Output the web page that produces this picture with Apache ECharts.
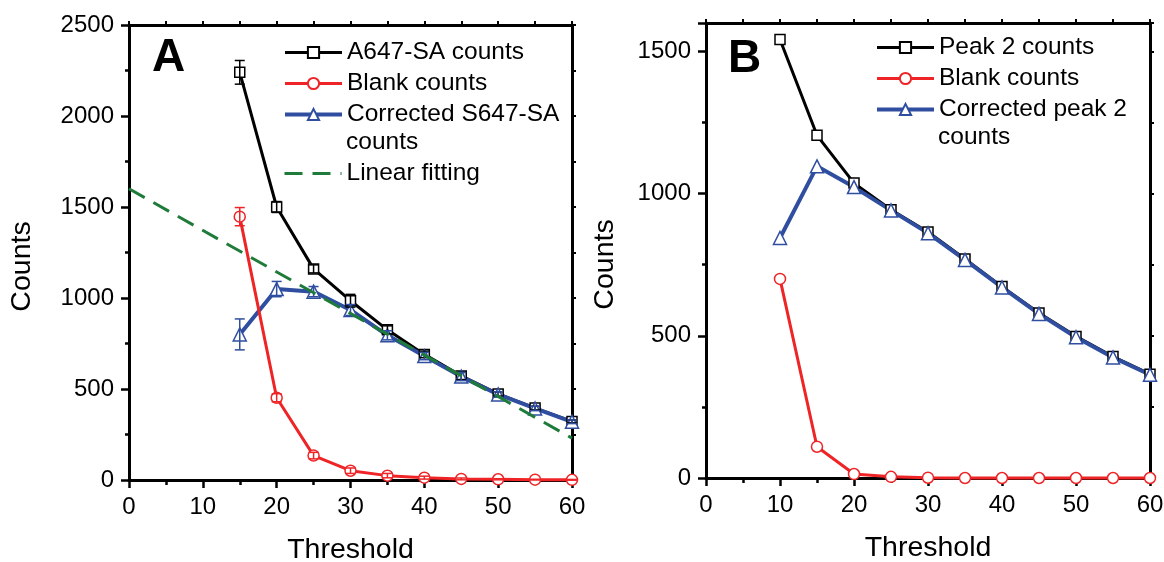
<!DOCTYPE html>
<html>
<head>
<meta charset="utf-8">
<script src="https://cdn.jsdelivr.net/npm/echarts@6/dist/echarts.min.js"></script>
<style>
html,body{margin:0;padding:0;background:#fff}
#chart{width:1164px;height:562px}
</style>
</head>
<body>
<div id="chart"></div>
<script>
// panel A
var thrA = [15,20,25,30,35,40,45,50,55,60];
var sampleA = [2240,1500,1160,985,825,690,572,473,395,322];
var sampleErrA = [65,30,22,35,22,18,20,12,10,8];
var blankA = [1447,452,134,51,24,13,6,4,2,1];
var blankErrA = [50,22,18,15,12,8,5,3,2,2];
var corrA = [800,1049,1035,934,795,681,568,470,393,320];
var corrErrA = [85,42,28,30,25,20,22,15,12,10];
var fitX = [0,60];
var fitY = [1600,230];

// panel B
var thrB = [10,15,20,25,30,35,40,45,50,55,60];
var peakB = [1542,1205,1037,943,865,770,673,580,498,427,365];
var blankB = [700,110,14,4,1,0,0,0,0,0,0];
var corrB = [844,1096,1023,941,861,767,670,577,495,424,363];

var BLACK = '#000', RED = '#ee2426', BLUE = '#2f4ea0', GREEN = '#1e7b3a';
var FONT = "'Liberation Sans', Arial, sans-serif";
var W_BLACK = 3, W_RED = 3, W_BLUE = 4;

function pairs(xs, ys) {
    return xs.map(function (x, i) { return [x, ys[i]]; });
}

function lineSeries(name, xs, ys, color, symbol, size, width, ax) {
    return {
        name: name, type: 'line', xAxisIndex: ax, yAxisIndex: ax,
        data: pairs(xs, ys), symbol: symbol, symbolSize: size,
        showAllSymbol: true, clip: false,
        lineStyle: {color: color, width: width},
        itemStyle: {color: '#fff', borderColor: color, borderWidth: 1.5},
        emphasis: {disabled: true}
    };
}

// error bars drawn with the axes' own coord()
function errSeries(xs, ys, es, color, ax) {
    return {
        type: 'custom', xAxisIndex: ax, yAxisIndex: ax, z: 4, silent: true,
        data: xs.map(function (x, i) { return [x, ys[i] - es[i], ys[i] + es[i]]; }),
        renderItem: function (params, api) {
            var lo = api.coord([api.value(0), api.value(1)]);
            var hi = api.coord([api.value(0), api.value(2)]);
            var w = 5;
            var st = {stroke: color, lineWidth: 1.5};
            return {type: 'group', children: [
                {type: 'line', shape: {x1: lo[0], y1: lo[1], x2: hi[0], y2: hi[1]}, style: st},
                {type: 'line', shape: {x1: lo[0] - w, y1: lo[1], x2: lo[0] + w, y2: lo[1]}, style: st},
                {type: 'line', shape: {x1: hi[0] - w, y1: hi[1], x2: hi[0] + w, y2: hi[1]}, style: st}
            ]};
        }
    };
}

function plain(v) { return String(v); }

function xMain(grid) {
    return {
        type: 'value', gridIndex: grid, min: 0, max: 60, interval: 10,
        name: 'Threshold', nameLocation: 'middle', nameGap: 56,
        nameTextStyle: {fontSize: 28.5, color: BLACK},
        axisLine: {onZero: false, lineStyle: {color: BLACK, width: 3}},
        axisTick: {length: 8, lineStyle: {color: BLACK, width: 2.5}},
        minorTick: {show: true, splitNumber: 2, length: 5, lineStyle: {color: BLACK, width: 2.5}},
        axisLabel: {fontSize: 24, color: BLACK, margin: 15, formatter: plain},
        splitLine: {show: false}
    };
}
function xTop(grid) {
    return {
        type: 'value', gridIndex: grid, position: 'top', min: 0, max: 60, interval: 5,
        axisLine: {onZero: false, lineStyle: {color: BLACK, width: 3}},
        axisTick: {length: 4, lineStyle: {color: BLACK, width: 2}},
        axisLabel: {show: false}, splitLine: {show: false}
    };
}
function yMain(grid, max, gap) {
    return {
        type: 'value', gridIndex: grid, min: 0, max: max, interval: 500,
        name: 'Counts', nameLocation: 'middle', nameGap: gap,
        nameTextStyle: {fontSize: 28.5, color: BLACK, padding: [0, 28, 0, 0]},
        axisLine: {onZero: false, lineStyle: {color: BLACK, width: 3}},
        axisTick: {length: 8, lineStyle: {color: BLACK, width: 2.5}},
        minorTick: {show: true, splitNumber: 2, length: 4, lineStyle: {color: BLACK, width: 2.5}},
        axisLabel: {fontSize: 24, color: BLACK, margin: 15, formatter: plain, showMaxLabel: max % 500 === 0},
        splitLine: {show: false}
    };
}
function yRight(grid, max) {
    return {
        type: 'value', gridIndex: grid, position: 'right', min: 0, max: max, interval: 250,
        axisLine: {onZero: false, lineStyle: {color: BLACK, width: 3}},
        axisTick: {length: 4, lineStyle: {color: BLACK, width: 2}},
        axisLabel: {show: false}, splitLine: {show: false}
    };
}

var legendBase = {
    orient: 'vertical', itemWidth: 57, itemHeight: 14, itemGap: 6, padding: 0,
    selectedMode: false,
    textStyle: {fontSize: 24.5, color: BLACK, lineHeight: 24},
    formatter: function (n) { return n.replace(/ counts$/, '').replace(/^(A647-SA|Peak 2|Blank)$/, '$1 counts'); }
};
function legItem(name, w) {
    return {name: name, lineStyle: {width: w}};
}

var chart = echarts.init(document.getElementById('chart'));
chart.setOption({
    animation: false,
    textStyle: {fontFamily: FONT},
    grid: [
        {left: 129, top: 25, width: 443, height: 455, outerBoundsMode: 'none'},
        {left: 706, top: 23, width: 444, height: 455, outerBoundsMode: 'none'}
    ],
    xAxis: [xMain(0), xTop(0), xMain(1), xTop(1)],
    yAxis: [yMain(0, 2500, 92), yRight(0, 2500), yMain(1, 1600, 86), yRight(1, 1600)],
    legend: [
        Object.assign({}, legendBase, {left: 283, top: 40, data: [
            legItem('A647-SA counts', W_BLACK), legItem('Blank counts', W_RED),
            legItem('Corrected S647-SA counts', W_BLUE)]}),
        Object.assign({}, legendBase, {left: 283, top: 161, data: [
            {name: 'Linear fitting', lineStyle: {width: 3}, itemStyle: {opacity: 0}}]}),
        Object.assign({}, legendBase, {left: 875, top: 35, data: [
            legItem('Peak 2 counts', W_BLACK), legItem('Blank counts', W_RED),
            legItem('Corrected peak 2 counts', W_BLUE)]})
    ],
    graphic: [
        {type: 'text', x: 152, y: 58, style: {text: 'A', font: "bold 46px " + FONT, fill: BLACK, textVerticalAlign: 'middle'}},
        {type: 'text', x: 728, y: 59, style: {text: 'B', font: "bold 46px " + FONT, fill: BLACK, textVerticalAlign: 'middle'}},
        {type: 'text', x: 346, y: 142, style: {text: 'counts', font: "24.5px " + FONT, fill: BLACK, textVerticalAlign: 'middle'}},
        {type: 'text', x: 938, y: 137, style: {text: 'counts', font: "24.5px " + FONT, fill: BLACK, textVerticalAlign: 'middle'}}
    ],
    series: [
        lineSeries('A647-SA counts', thrA, sampleA, BLACK, 'rect', 10, W_BLACK, 0),
        lineSeries('Corrected S647-SA counts', thrA, corrA, BLUE, 'triangle', 13, W_BLUE, 0),
        lineSeries('Blank counts', thrA, blankA, RED, 'circle', 11, W_RED, 0),
        errSeries(thrA, sampleA, sampleErrA, BLACK, 0),
        errSeries(thrA, corrA, corrErrA, BLUE, 0),
        errSeries(thrA, blankA, blankErrA, RED, 0),
        {
            name: 'Linear fitting', type: 'line', xAxisIndex: 0, yAxisIndex: 0, z: 6,
            data: pairs(fitX, fitY), symbol: 'none', clip: false,
            lineStyle: {color: GREEN, width: 3, type: [18, 10]},
            itemStyle: {color: GREEN}
        },
        lineSeries('Peak 2 counts', thrB, peakB, BLACK, 'rect', 10, W_BLACK, 2),
        lineSeries('Corrected peak 2 counts', thrB, corrB, BLUE, 'triangle', 13, W_BLUE, 2),
        lineSeries('Blank counts', thrB, blankB, RED, 'circle', 11, W_RED, 2)
    ]
});
</script>
</body>
</html>
